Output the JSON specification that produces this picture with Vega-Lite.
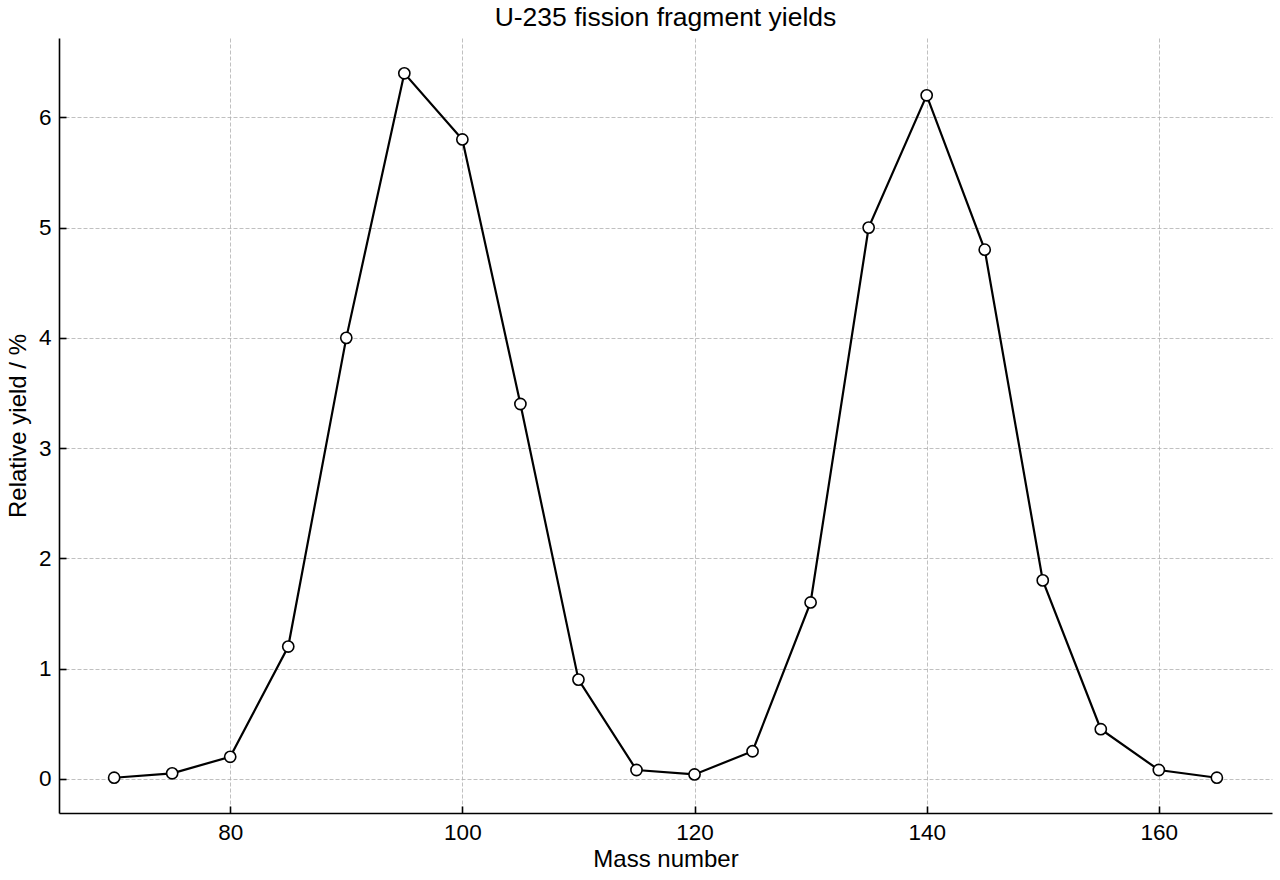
{
  "$schema": "https://vega.github.io/schema/vega-lite/v6.json",
  "autosize": {"type": "none"},
  "padding": {"left": 59, "top": 38, "right": 8, "bottom": 67},
  "width": 1213,
  "height": 775,
  "background": "white",
  "title": {"text": "U-235 fission fragment yields", "fontSize": 26.5, "fontWeight": "normal", "font": "Liberation Sans", "color": "black", "offset": 7},
  "data": {
    "values": [
      {"mass": 70, "yield": 0.01},
      {"mass": 75, "yield": 0.05},
      {"mass": 80, "yield": 0.2},
      {"mass": 85, "yield": 1.2},
      {"mass": 90, "yield": 4.0},
      {"mass": 95, "yield": 6.4},
      {"mass": 100, "yield": 5.8},
      {"mass": 105, "yield": 3.4},
      {"mass": 110, "yield": 0.9},
      {"mass": 115, "yield": 0.08},
      {"mass": 120, "yield": 0.04},
      {"mass": 125, "yield": 0.25},
      {"mass": 130, "yield": 1.6},
      {"mass": 135, "yield": 5.0},
      {"mass": 140, "yield": 6.2},
      {"mass": 145, "yield": 4.8},
      {"mass": 150, "yield": 1.8},
      {"mass": 155, "yield": 0.45},
      {"mass": 160, "yield": 0.08},
      {"mass": 165, "yield": 0.01}
    ]
  },
  "encoding": {
    "x": {
      "field": "mass", "type": "quantitative", "title": "Mass number",
      "scale": {"domain": [65.25, 169.75], "nice": false, "zero": false},
      "axis": {"values": [80, 100, 120, 140, 160], "titlePadding": 4}
    },
    "y": {
      "field": "yield", "type": "quantitative", "title": "Relative yield / %",
      "scale": {"domain": [-0.31, 6.72], "nice": false, "zero": false},
      "axis": {"values": [0, 1, 2, 3, 4, 5, 6], "titlePadding": 8}
    }
  },
  "layer": [
    {"mark": {"type": "line", "color": "black", "strokeWidth": 2.2}},
    {"mark": {"type": "point", "shape": "circle", "filled": true, "fill": "white", "stroke": "black", "strokeWidth": 1.6, "size": 125, "opacity": 1}}
  ],
  "config": {
    "view": {"stroke": null},
    "font": "Liberation Sans",
    "axis": {
      "domainColor": "black", "domainWidth": 1.6,
      "tickColor": "black", "tickWidth": 1.6, "tickSize": -7,
      "labelFont": "Liberation Sans", "labelFontSize": 22.5, "labelColor": "black", "labelPadding": 15,
      "titleFont": "Liberation Sans", "titleFontSize": 24, "titleFontWeight": "normal", "titleColor": "black",
      "grid": true, "gridColor": "#b0b0b0", "gridWidth": 0.8, "gridDash": [4, 2]
    }
  }
}
